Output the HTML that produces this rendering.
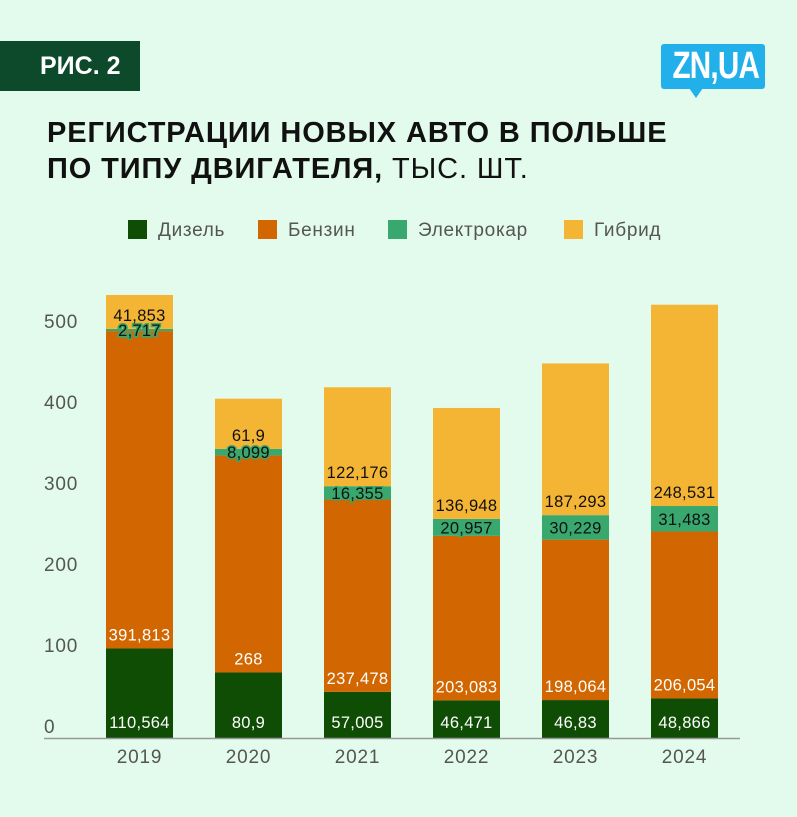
<!DOCTYPE html>
<html><head><meta charset="utf-8">
<style>
body{margin:0;background:#e3fbec;font-family:"Liberation Sans","DejaVu Sans",sans-serif;}
#wrap{position:relative;width:797px;height:817px;overflow:hidden;background:#e3fbec;}
.badge{position:absolute;left:0;top:41px;width:140px;height:50px;background:#0d4a2b;}
.badge span{position:absolute;left:40px;top:11px;color:#fff;font-weight:bold;font-size:25px;white-space:nowrap;}
.logo{position:absolute;left:661px;top:44px;width:104px;height:45px;background:#22b0ea;border-radius:3px;}
.logo span{position:absolute;left:0;top:0;width:104px;color:#fff;font-weight:bold;font-size:38px;line-height:45px;text-align:center;transform:scaleX(0.78);letter-spacing:-1px;}
.logo:after{content:"";position:absolute;left:28px;bottom:-9px;border-left:7px solid transparent;border-right:7px solid transparent;border-top:10px solid #22b0ea;}
.title{position:absolute;left:47px;top:115px;font-size:29px;line-height:36px;color:#111;font-weight:bold;letter-spacing:0.9px;white-space:nowrap;}
.title span{font-weight:normal;}
.legend{position:absolute;top:220px;left:128px;font-size:19px;color:#555;letter-spacing:0.7px;}
.li{position:absolute;white-space:nowrap;}
.sw{display:inline-block;width:19px;height:19px;vertical-align:-3px;margin-right:11px;}
</style></head><body>
<div id="wrap">
<div class="badge"><span>РИС. 2</span></div>
<div class="logo"><span>ZN,UA</span></div>
<div class="title">РЕГИСТРАЦИИ НОВЫХ АВТО В ПОЛЬШЕ<br>ПО ТИПУ ДВИГАТЕЛЯ, <span>ТЫС. ШТ.</span></div>
<div class="legend">
<div class="li" style="left:0"><span class="sw" style="background:#0f4d04"></span>Дизель</div>
<div class="li" style="left:130px"><span class="sw" style="background:#d26600"></span>Бензин</div>
<div class="li" style="left:260px"><span class="sw" style="background:#38a86f"></span>Электрокар</div>
<div class="li" style="left:436px"><span class="sw" style="background:#f4b534"></span>Гибрид</div>
</div>
<svg id="chart" width="797" height="817" style="position:absolute;left:0;top:0"></svg>
</div>
<script>
const years=["2019","2020","2021","2022","2023","2024"];
const diesel=[110.564,80.9,57.005,46.471,46.83,48.866];
const petrol=[391.813,268,237.478,203.083,198.064,206.054];
const electric=[2.717,8.099,16.355,20.957,30.229,31.483];
const hybrid=[41.853,61.9,122.176,136.948,187.293,248.531];
const dieselLbl=["110,564","80,9","57,005","46,471","46,83","48,866"];
const petrolLbl=["391,813","268","237,478","203,083","198,064","206,054"];
const electricLbl=["2,717","8,099","16,355","20,957","30,229","31,483"];
const hybridLbl=["41,853","61,9","122,176","136,948","187,293","248,531"];
const yTicks=[0,100,200,300,400,500];

const NS="http://www.w3.org/2000/svg";
const svg=document.getElementById('chart');
const base=738,k=0.81,x0=106,step=109,bw=67;
const y=v=>base-v*k;
const xb=i=>x0+i*step;
const FF='Liberation Sans, sans-serif';
function mk(t,a){const e=document.createElementNS(NS,t);for(const q in a)e.setAttribute(q,a[q]);svg.appendChild(e);return e;}
yTicks.forEach(t=>{
 const e=mk('text',{x:44,y:y(t)-5,'font-size':19,fill:'#555','font-family':FF,'letter-spacing':0.8});
 e.textContent=t;
 
 
});
const series=[[diesel,'#0f4d04',dieselLbl,'diesel','#fff'],[petrol,'#d26600',petrolLbl,'petrol','#fff'],[electric,'#38a86f',electricLbl,'electric','#111'],[hybrid,'#f4b534',hybridLbl,'hybrid','#111']];
const labels=[];
years.forEach((yr,i)=>{
 let cum=0;
 series.forEach(([arr,col,lbl,nm,tc])=>{
  const v=arr[i],top=y(cum+v),bot=y(cum);
  const r=mk('rect',{x:xb(i),y:top,width:bw,height:bot-top,fill:col});
  
  
  let ly;
  if(nm==='diesel') ly=bot-10;
  else if(nm==='electric') ly=(top+bot)/2+6;
  else ly=bot-8;
  labels.push([xb(i)+bw/2,ly,lbl[i],tc,nm,yr]);
  cum+=v;
 });
 const xl=mk('text',{x:xb(i)+bw/2,y:763,'text-anchor':'middle','font-size':19,fill:'#555','font-family':FF,'letter-spacing':0.8});
 xl.textContent=yr;
 
 
});
labels.forEach(([lx,ly,s,tc,nm,yr])=>{
 const a={x:lx,y:ly,'text-anchor':'middle','font-size':16.5,fill:tc,'font-family':FF,'letter-spacing':0.3};
 if(nm==='electric'){a.stroke='#38a86f';a['stroke-width']=3;a['paint-order']='stroke';}
 const t=mk('text',a);
 t.textContent=s;
 
 
});
const ax=mk('line',{x1:44,x2:740,y1:base+0.5,y2:base+0.5,stroke:'#999','stroke-width':1.5});


</script>
</body></html>
